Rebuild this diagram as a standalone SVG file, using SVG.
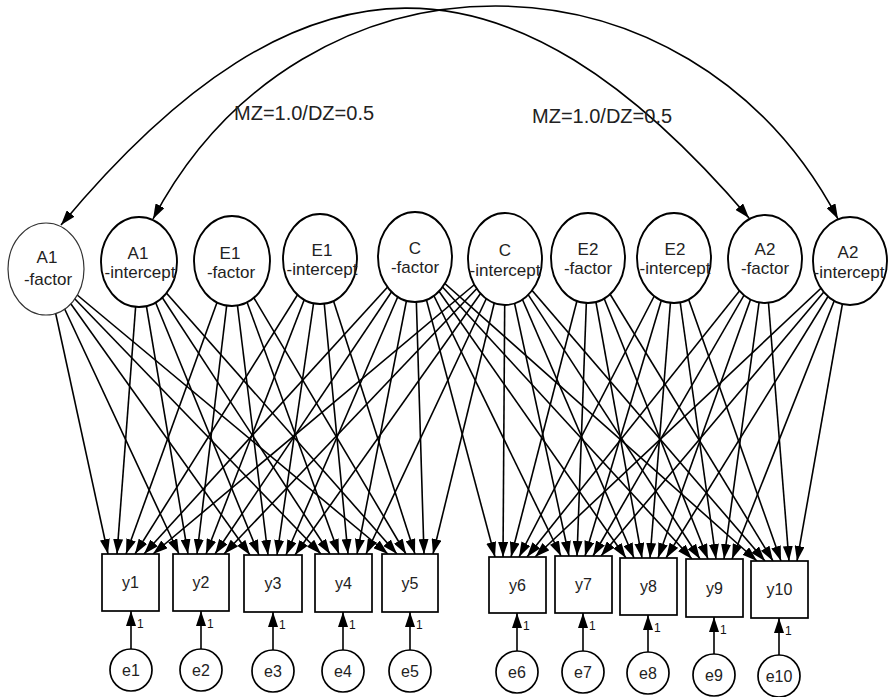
<svg xmlns="http://www.w3.org/2000/svg" width="889" height="697" viewBox="0 0 889 697">
<defs>
<marker id="ah" markerUnits="userSpaceOnUse" markerWidth="15" markerHeight="10" refX="15" refY="5" orient="auto-start-reverse"><path d="M0,0 L15,5 L0,10 z" fill="#000"/></marker>
<style>
.lat ellipse{fill:#fff;stroke:#000;stroke-width:1.9}
.obs rect{fill:#fff;stroke:#000;stroke-width:1.7}
.err circle{fill:#fff;stroke:#000;stroke-width:1.7}
text{font-family:"Liberation Sans",Arial,sans-serif;fill:#222;text-anchor:middle}
.t{font-size:17px}
.v{font-size:16px}
.m{font-size:20px;text-anchor:start}
.s{font-size:12px;text-anchor:start;fill:#111}
#connectors line{stroke:#000;stroke-width:1.6;marker-end:url(#ah)}
.arc{fill:none;stroke:#000;stroke-width:1.6;marker-start:url(#ah);marker-end:url(#ah)}
</style>
</defs>
<rect width="889" height="697" fill="#fff"/>
<g id="connectors">
<path class="arc" d="M61,225 C301,-63 509,-63 749,218"/>
<path class="arc" d="M153,219 C303,-65 688,-65 838,219"/>
<!-- A1-factor -->
<line x1="46" y1="269" x2="108" y2="554"/>
<line x1="46" y1="269" x2="179" y2="554"/>
<line x1="46" y1="269" x2="250" y2="555"/>
<line x1="46" y1="269" x2="321" y2="554"/>
<line x1="46" y1="269" x2="388" y2="554"/>
<!-- A1-intercept -->
<line x1="139" y1="262" x2="117" y2="554"/>
<line x1="139" y1="262" x2="188" y2="554"/>
<line x1="139" y1="262" x2="259" y2="555"/>
<line x1="139" y1="262" x2="330" y2="554"/>
<line x1="139" y1="262" x2="397" y2="554"/>
<!-- E1-factor -->
<line x1="232" y1="261" x2="126" y2="554"/>
<line x1="232" y1="261" x2="197" y2="554"/>
<line x1="232" y1="261" x2="268" y2="555"/>
<line x1="232" y1="261" x2="339" y2="554"/>
<line x1="232" y1="261" x2="406" y2="554"/>
<!-- E1-intercept -->
<line x1="320" y1="259" x2="135" y2="554"/>
<line x1="320" y1="259" x2="206" y2="554"/>
<line x1="320" y1="259" x2="277" y2="555"/>
<line x1="320" y1="259" x2="348" y2="554"/>
<line x1="320" y1="259" x2="415" y2="554"/>
<!-- C-factor -->
<line x1="415" y1="257" x2="144" y2="554"/>
<line x1="415" y1="257" x2="215" y2="554"/>
<line x1="415" y1="257" x2="286" y2="555"/>
<line x1="415" y1="257" x2="357" y2="554"/>
<line x1="415" y1="257" x2="424" y2="554"/>
<line x1="415" y1="257" x2="495" y2="557"/>
<line x1="415" y1="257" x2="561" y2="556"/>
<line x1="415" y1="257" x2="626" y2="558"/>
<line x1="415" y1="257" x2="692" y2="559"/>
<line x1="415" y1="257" x2="757" y2="561"/>
<!-- C-intercept -->
<line x1="505" y1="259" x2="153" y2="554"/>
<line x1="505" y1="259" x2="224" y2="554"/>
<line x1="505" y1="259" x2="295" y2="555"/>
<line x1="505" y1="259" x2="366" y2="554"/>
<line x1="505" y1="259" x2="433" y2="554"/>
<line x1="505" y1="259" x2="503" y2="557"/>
<line x1="505" y1="259" x2="569" y2="556"/>
<line x1="505" y1="259" x2="634" y2="558"/>
<line x1="505" y1="259" x2="700" y2="559"/>
<line x1="505" y1="259" x2="765" y2="561"/>
<!-- E2-factor -->
<line x1="588" y1="258" x2="511" y2="557"/>
<line x1="588" y1="258" x2="577" y2="556"/>
<line x1="588" y1="258" x2="642" y2="558"/>
<line x1="588" y1="258" x2="708" y2="559"/>
<line x1="588" y1="258" x2="773" y2="561"/>
<!-- E2-intercept -->
<line x1="674" y1="258" x2="519" y2="557"/>
<line x1="674" y1="258" x2="585" y2="556"/>
<line x1="674" y1="258" x2="650" y2="558"/>
<line x1="674" y1="258" x2="716" y2="559"/>
<line x1="674" y1="258" x2="781" y2="561"/>
<!-- A2-factor -->
<line x1="765" y1="259" x2="527" y2="557"/>
<line x1="765" y1="259" x2="593" y2="556"/>
<line x1="765" y1="259" x2="658" y2="558"/>
<line x1="765" y1="259" x2="724" y2="559"/>
<line x1="765" y1="259" x2="789" y2="561"/>
<!-- A2-intercept -->
<line x1="850" y1="261" x2="535" y2="557"/>
<line x1="850" y1="261" x2="601" y2="556"/>
<line x1="850" y1="261" x2="666" y2="558"/>
<line x1="850" y1="261" x2="732" y2="559"/>
<line x1="850" y1="261" x2="797" y2="561"/>
<!-- residuals -->
<line x1="131" y1="649" x2="131" y2="611"/>
<line x1="201" y1="649" x2="201" y2="611"/>
<line x1="273" y1="650" x2="273" y2="612"/>
<line x1="343" y1="650" x2="343" y2="612"/>
<line x1="410" y1="650" x2="410" y2="612"/>
<line x1="517" y1="651" x2="517" y2="613"/>
<line x1="583" y1="651" x2="583" y2="613"/>
<line x1="648" y1="652" x2="648" y2="615"/>
<line x1="714" y1="654" x2="714" y2="617"/>
<line x1="779" y1="655" x2="779" y2="618"/>
<text class="m" x="234" y="120">MZ=1.0/DZ=0.5</text>
<text class="m" x="532" y="123">MZ=1.0/DZ=0.5</text>
<text class="s" x="137" y="628">1</text>
<text class="s" x="207" y="628">1</text>
<text class="s" x="279" y="629">1</text>
<text class="s" x="349" y="629">1</text>
<text class="s" x="416" y="629">1</text>
<text class="s" x="523" y="630">1</text>
<text class="s" x="589" y="630">1</text>
<text class="s" x="654" y="632">1</text>
<text class="s" x="720" y="634">1</text>
<text class="s" x="785" y="635">1</text>
</g>
<g id="A1-factor" class="lat"><ellipse cx="46" cy="269" rx="38" ry="46" style="stroke-width:1.2;stroke:#333"/><text class="t" x="47" y="263">A1</text><text class="t" x="48" y="285">-factor</text></g>
<g id="A1-intercept" class="lat"><ellipse cx="139" cy="262" rx="38" ry="45"/><text class="t" x="138" y="259">A1</text><text class="t" x="140" y="278">-intercept</text></g>
<g id="E1-factor" class="lat"><ellipse cx="232" cy="261" rx="38" ry="45"/><text class="t" x="230" y="259">E1</text><text class="t" x="231" y="278">-factor</text></g>
<g id="E1-intercept" class="lat"><ellipse cx="320" cy="259" rx="37" ry="45"/><text class="t" x="322" y="256">E1</text><text class="t" x="322" y="275">-intercept</text></g>
<g id="C-factor" class="lat"><ellipse cx="415" cy="257" rx="37" ry="45"/><text class="t" x="415" y="254">C</text><text class="t" x="415" y="273">-factor</text></g>
<g id="C-intercept" class="lat"><ellipse cx="505" cy="259" rx="37" ry="46"/><text class="t" x="505" y="256">C</text><text class="t" x="505" y="276">-intercept</text></g>
<g id="E2-factor" class="lat"><ellipse cx="588" cy="258" rx="37" ry="45"/><text class="t" x="588" y="255">E2</text><text class="t" x="588" y="274">-factor</text></g>
<g id="E2-intercept" class="lat"><ellipse cx="674" cy="258" rx="37" ry="45"/><text class="t" x="675" y="255">E2</text><text class="t" x="675" y="274">-intercept</text></g>
<g id="A2-factor" class="lat"><ellipse cx="765" cy="259" rx="37" ry="44"/><text class="t" x="765" y="255">A2</text><text class="t" x="765" y="274">-factor</text></g>
<g id="A2-intercept" class="lat"><ellipse cx="850" cy="261" rx="37" ry="44"/><text class="t" x="848" y="258">A2</text><text class="t" x="849" y="278">-intercept</text></g>
<g id="y1" class="obs"><rect x="102" y="554" width="57" height="57"/><text class="v" x="130.5" y="588">y1</text></g>
<g id="y2" class="obs"><rect x="173" y="554" width="56" height="57"/><text class="v" x="201" y="588">y2</text></g>
<g id="y3" class="obs"><rect x="244" y="555" width="58" height="57"/><text class="v" x="273" y="589">y3</text></g>
<g id="y4" class="obs"><rect x="315" y="554" width="57" height="58"/><text class="v" x="343.5" y="589">y4</text></g>
<g id="y5" class="obs"><rect x="382" y="554" width="56" height="58"/><text class="v" x="410" y="589">y5</text></g>
<g id="y6" class="obs"><rect x="489" y="557" width="57" height="56"/><text class="v" x="517.5" y="591">y6</text></g>
<g id="y7" class="obs"><rect x="555" y="556" width="57" height="57"/><text class="v" x="583.5" y="590">y7</text></g>
<g id="y8" class="obs"><rect x="620" y="558" width="57" height="57"/><text class="v" x="648.5" y="592">y8</text></g>
<g id="y9" class="obs"><rect x="686" y="559" width="57" height="58"/><text class="v" x="714.5" y="594">y9</text></g>
<g id="y10" class="obs"><rect x="751" y="561" width="57" height="57"/><text class="v" x="779.5" y="595">y10</text></g>
<g id="e1" class="err"><circle cx="131" cy="670" r="21"/><text class="v" x="131" y="676">e1</text></g>
<g id="e2" class="err"><circle cx="201" cy="670" r="21"/><text class="v" x="201" y="676">e2</text></g>
<g id="e3" class="err"><circle cx="273" cy="671" r="21"/><text class="v" x="273" y="677">e3</text></g>
<g id="e4" class="err"><circle cx="343" cy="671" r="21"/><text class="v" x="343" y="677">e4</text></g>
<g id="e5" class="err"><circle cx="410" cy="671" r="21"/><text class="v" x="410" y="677">e5</text></g>
<g id="e6" class="err"><circle cx="517" cy="672" r="21"/><text class="v" x="517" y="678">e6</text></g>
<g id="e7" class="err"><circle cx="583" cy="672" r="21"/><text class="v" x="583" y="678">e7</text></g>
<g id="e8" class="err"><circle cx="648" cy="673" r="21"/><text class="v" x="648" y="679">e8</text></g>
<g id="e9" class="err"><circle cx="714" cy="675" r="21"/><text class="v" x="714" y="681">e9</text></g>
<g id="e10" class="err"><circle cx="779" cy="676" r="21"/><text class="v" x="779" y="682">e10</text></g>
</svg>
